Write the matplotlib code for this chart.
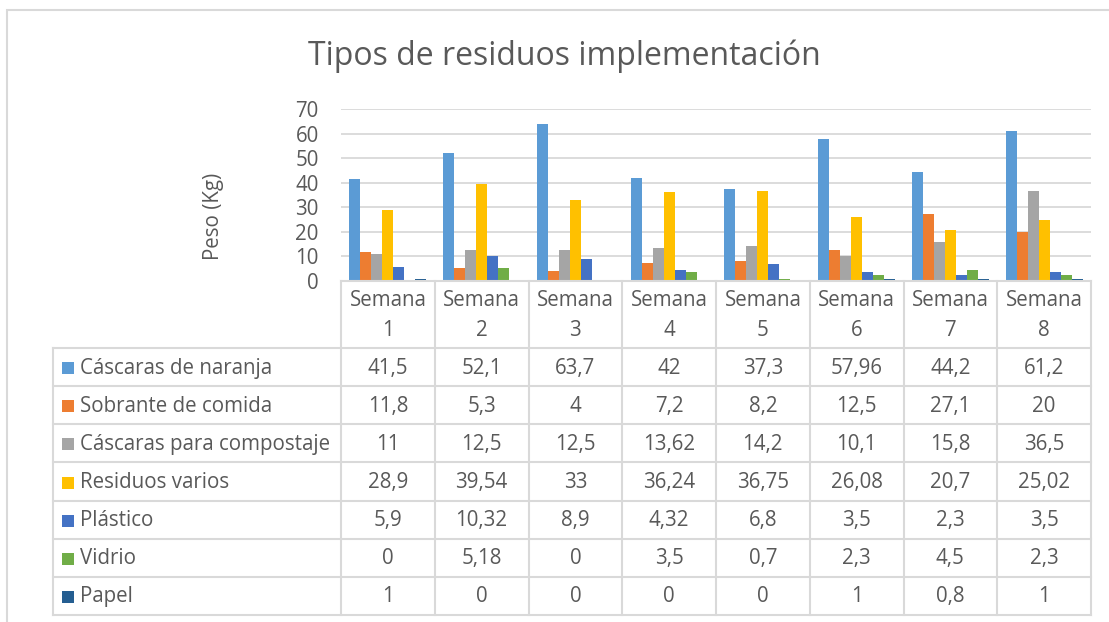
import numpy as np
import matplotlib.pyplot as plt
from matplotlib.patches import Rectangle

plt.rcParams['font.family'] = ['Open Sans', 'DejaVu Sans']

# Datos (kg por semana)
semanas = ['Semana\n1', 'Semana\n2', 'Semana\n3', 'Semana\n4',
           'Semana\n5', 'Semana\n6', 'Semana\n7', 'Semana\n8']
series = ['Cáscaras de naranja', 'Sobrante de comida', 'Cáscaras para compostaje',
          'Residuos varios', 'Plástico', 'Vidrio', 'Papel']
naranja = [41.5, 52.1, 63.7, 42, 37.3, 57.96, 44.2, 61.2]
comida = [11.8, 5.3, 4, 7.2, 8.2, 12.5, 27.1, 20]
compostaje = [11, 12.5, 12.5, 13.62, 14.2, 10.1, 15.8, 36.5]
varios = [28.9, 39.54, 33, 36.24, 36.75, 26.08, 20.7, 25.02]
plastico = [5.9, 10.32, 8.9, 4.32, 6.8, 3.5, 2.3, 3.5]
vidrio = [0, 5.18, 0, 3.5, 0.7, 2.3, 4.5, 2.3]
papel = [1, 0, 0, 0, 0, 1, 0.8, 1]
valores = [naranja, comida, compostaje, varios, plastico, vidrio, papel]
colores = ['#5B9BD5', '#ED7D31', '#A5A5A5', '#FFC000', '#4472C4', '#70AD47', '#255E91']

TXT = '#595959'
LINE = '#D9D9D9'
FS = 14.8
W, H = 1109, 622

fig = plt.figure(figsize=(W / 100, H / 100), dpi=100, facecolor='white')

# marco exterior del grafico
fig.patches.append(Rectangle((7 / W, -0.05), 1.1, 1.05 - 10 / H, transform=fig.transFigure,
                             fill=False, ec=LINE, lw=1.5))

# area de barras
col_w = 93.75
ax = fig.add_axes([341 / W, 1 - 281 / H, 750 / W, 172 / H])
x = np.arange(len(semanas))
bw = 1 / 8.5
for i, (vals, c) in enumerate(zip(valores, colores)):
    ax.bar(x + (i - 3) * bw, vals, width=bw, color=c, linewidth=0, zorder=3)
ax.set_xlim(-0.5, 7.5)
ax.set_ylim(0, 70)
ax.set_yticks(range(0, 71, 10))
ax.set_xticks([])
ax.yaxis.grid(True, color=LINE, lw=1.3, zorder=0)
ax.tick_params(axis='y', length=0, pad=16, labelsize=FS, labelcolor=TXT)
for s in ax.spines.values():
    s.set_visible(False)

fig.text(214 / W, 1 - 216 / H, 'Peso (Kg)', rotation=90, ha='center', va='center',
         fontsize=FS, color=TXT)
fig.text(564 / W, 1 - 56 / H, 'Tipos de residuos implementación', ha='center', va='center',
         fontsize=23, color=TXT)

# tabla de datos
legend_w = 288 / col_w
tx = fig.add_axes([53 / W, 1 - 615 / H, 1038 / W, 334 / H])
tx.set_xlim(-0.5 - legend_w, 7.5)
tx.set_ylim(615, 281)
tx.axis('off')

top, head_bot = 281, 348
row_h = (615 - head_bot) / len(series)
row_edges = [head_bot + k * row_h for k in range(len(series) + 1)]
left = -0.5 - legend_w

# lineas de la tabla
tx.plot([-0.5, 7.5], [top, top], color=LINE, lw=1.5, clip_on=False)
for y in row_edges:
    tx.plot([left, 7.5], [y, y], color=LINE, lw=1.5, clip_on=False)
tx.plot([left, left], [head_bot, 615], color=LINE, lw=1.5, clip_on=False)
for k in range(len(semanas) + 1):
    tx.plot([k - 0.5, k - 0.5], [top, 615], color=LINE, lw=1.5, clip_on=False)

# encabezados
for j, lab in enumerate(semanas):
    tx.text(j, (top + head_bot) / 2 + 1, lab, ha='center', va='center', fontsize=FS,
            color=TXT, linespacing=1.5)

# filas
for i, (name, vals, c) in enumerate(zip(series, valores, colores)):
    yc = head_bot + (i + 0.5) * row_h + 1
    tx.plot(left + 15 / col_w, yc, marker='s', ms=9, color=c, mew=0, clip_on=False)
    tx.text(left + 27 / col_w, yc, name, ha='left', va='center', fontsize=FS, color=TXT)
    for j, v in enumerate(vals):
        tx.text(j, yc, f'{v:g}'.replace('.', ','), ha='center', va='center',
                fontsize=FS, color=TXT)

fig.savefig('out.png', dpi=100)
